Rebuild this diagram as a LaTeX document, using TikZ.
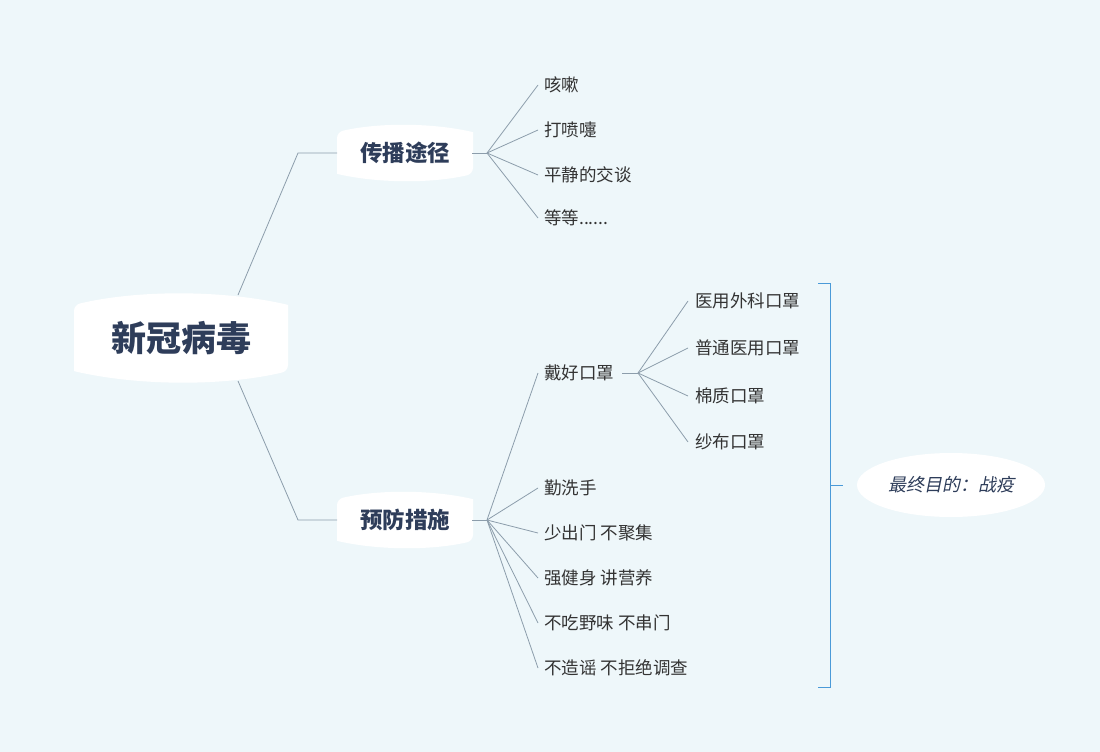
\documentclass[tikz,border=0pt]{standalone}
\usepackage{fontspec}
\usetikzlibrary{shapes.geometric}
\setmainfont{Noto Sans CJK SC}
\newfontfamily\slantcjk[FakeSlant=0.2]{Noto Sans CJK SC}
\definecolor{bgblue}{HTML}{EEF7FA}
\definecolor{linegray}{HTML}{8C9DAB}
\definecolor{titlenavy}{HTML}{2E3D5A}
\definecolor{leafgray}{HTML}{333333}
\definecolor{bracketblue}{HTML}{4A9AD8}
\tikzset{
  topic/.style={font=\fontsize{22.5}{26}\selectfont\bfseries, text=titlenavy},
  leaf/.style={anchor=west, font=\fontsize{17.5}{20}\selectfont, text=leafgray, inner sep=0pt},
  link/.style={draw=linegray, line width=0.8pt},
}
\newcommand{\bulgebox}[4]{% center x, center y, half width, half height
  \fill[white] (#1-#3,#2-#4*0.72) .. controls (#1-#3*0.4,#2-#4*1.05) and (#1+#3*0.4,#2-#4*1.05) .. (#1+#3,#2-#4*0.72)
    [rounded corners=6pt] -- (#1+#3,#2+#4*0.72) [sharp corners]
    .. controls (#1+#3*0.4,#2+#4*1.05) and (#1-#3*0.4,#2+#4*1.05) .. (#1-#3,#2+#4*0.72)
    [rounded corners=6pt] -- cycle;}
\begin{document}
\begin{tikzpicture}[x=1pt, y=-1pt]
\fill[bgblue] (0,0) rectangle (1100,752);
\useasboundingbox (0,0) rectangle (1100,752);

% boxes
\bulgebox{181}{338}{107}{46}
\bulgebox{405}{153}{68}{29}
\bulgebox{405}{520}{68}{29}

\node (root) [font=\fontsize{35}{40}\selectfont\bfseries, text=titlenavy] at (181,338) {新冠病毒};
\node (spread) [topic] at (405,153) {传播途径};
\node (prevent) [topic] at (405,520) {预防措施};

\coordinate (rtop) at (238,295);
\coordinate (rbot) at (238,381);
\coordinate (sin) at (337,153);
\coordinate (pin) at (337,520);
\draw[link] (rtop) -- (298,153) -- (sin);
\draw[link] (rbot) -- (298,520) -- (pin);

% spread leaves
\coordinate (sj) at (487,153);
\draw[link] (472,153) -- (sj);
\foreach \name/\txt/\y in {cough/咳嗽/85, sneeze/打喷嚏/130, talk/平静的交谈/175, etc/{等等......}/218}{
  \node (\name) [leaf] at (544,\y) {\txt};
  \draw[link] (sj) -- (538,\y);
}

% prevention leaves
\coordinate (pj) at (487,520);
\draw[link] (472,520) -- (pj);
\foreach \name/\txt/\y in {mask/戴好口罩/373, wash/勤洗手/488, stay/少出门 不聚集/533, fit/强健身 讲营养/578, wild/不吃野味 不串门/623, rumor/不造谣 不拒绝调查/668}{
  \node (\name) [leaf] at (544,\y) {\txt};
  \draw[link] (pj) -- (538,\y);
}

% mask types
\coordinate (mj) at (638,373);
\draw[link] (622,373) -- (mj);
\foreach \name/\txt/\y in {surgical/医用外科口罩/301, medical/普通医用口罩/348, cotton/棉质口罩/396, gauze/纱布口罩/442}{
  \node (\name) [leaf] at (695,\y) {\txt};
  \draw[link] (mj) -- (688,\y);
}

% summary
\draw[bracketblue, line width=1pt] (818,283) -- (830,283) -- (830,687) -- (818,687);
\coordinate (bmid) at (830,485);
\node (goal) [ellipse, fill=white, minimum width=188pt, minimum height=64pt, text=titlenavy,
  font=\fontsize{18}{21}\selectfont\slantcjk] at (951,485) {最终目的：战疫};
\draw[bracketblue, line width=1pt] (bmid) -- (843,485);
\end{tikzpicture}
\end{document}
